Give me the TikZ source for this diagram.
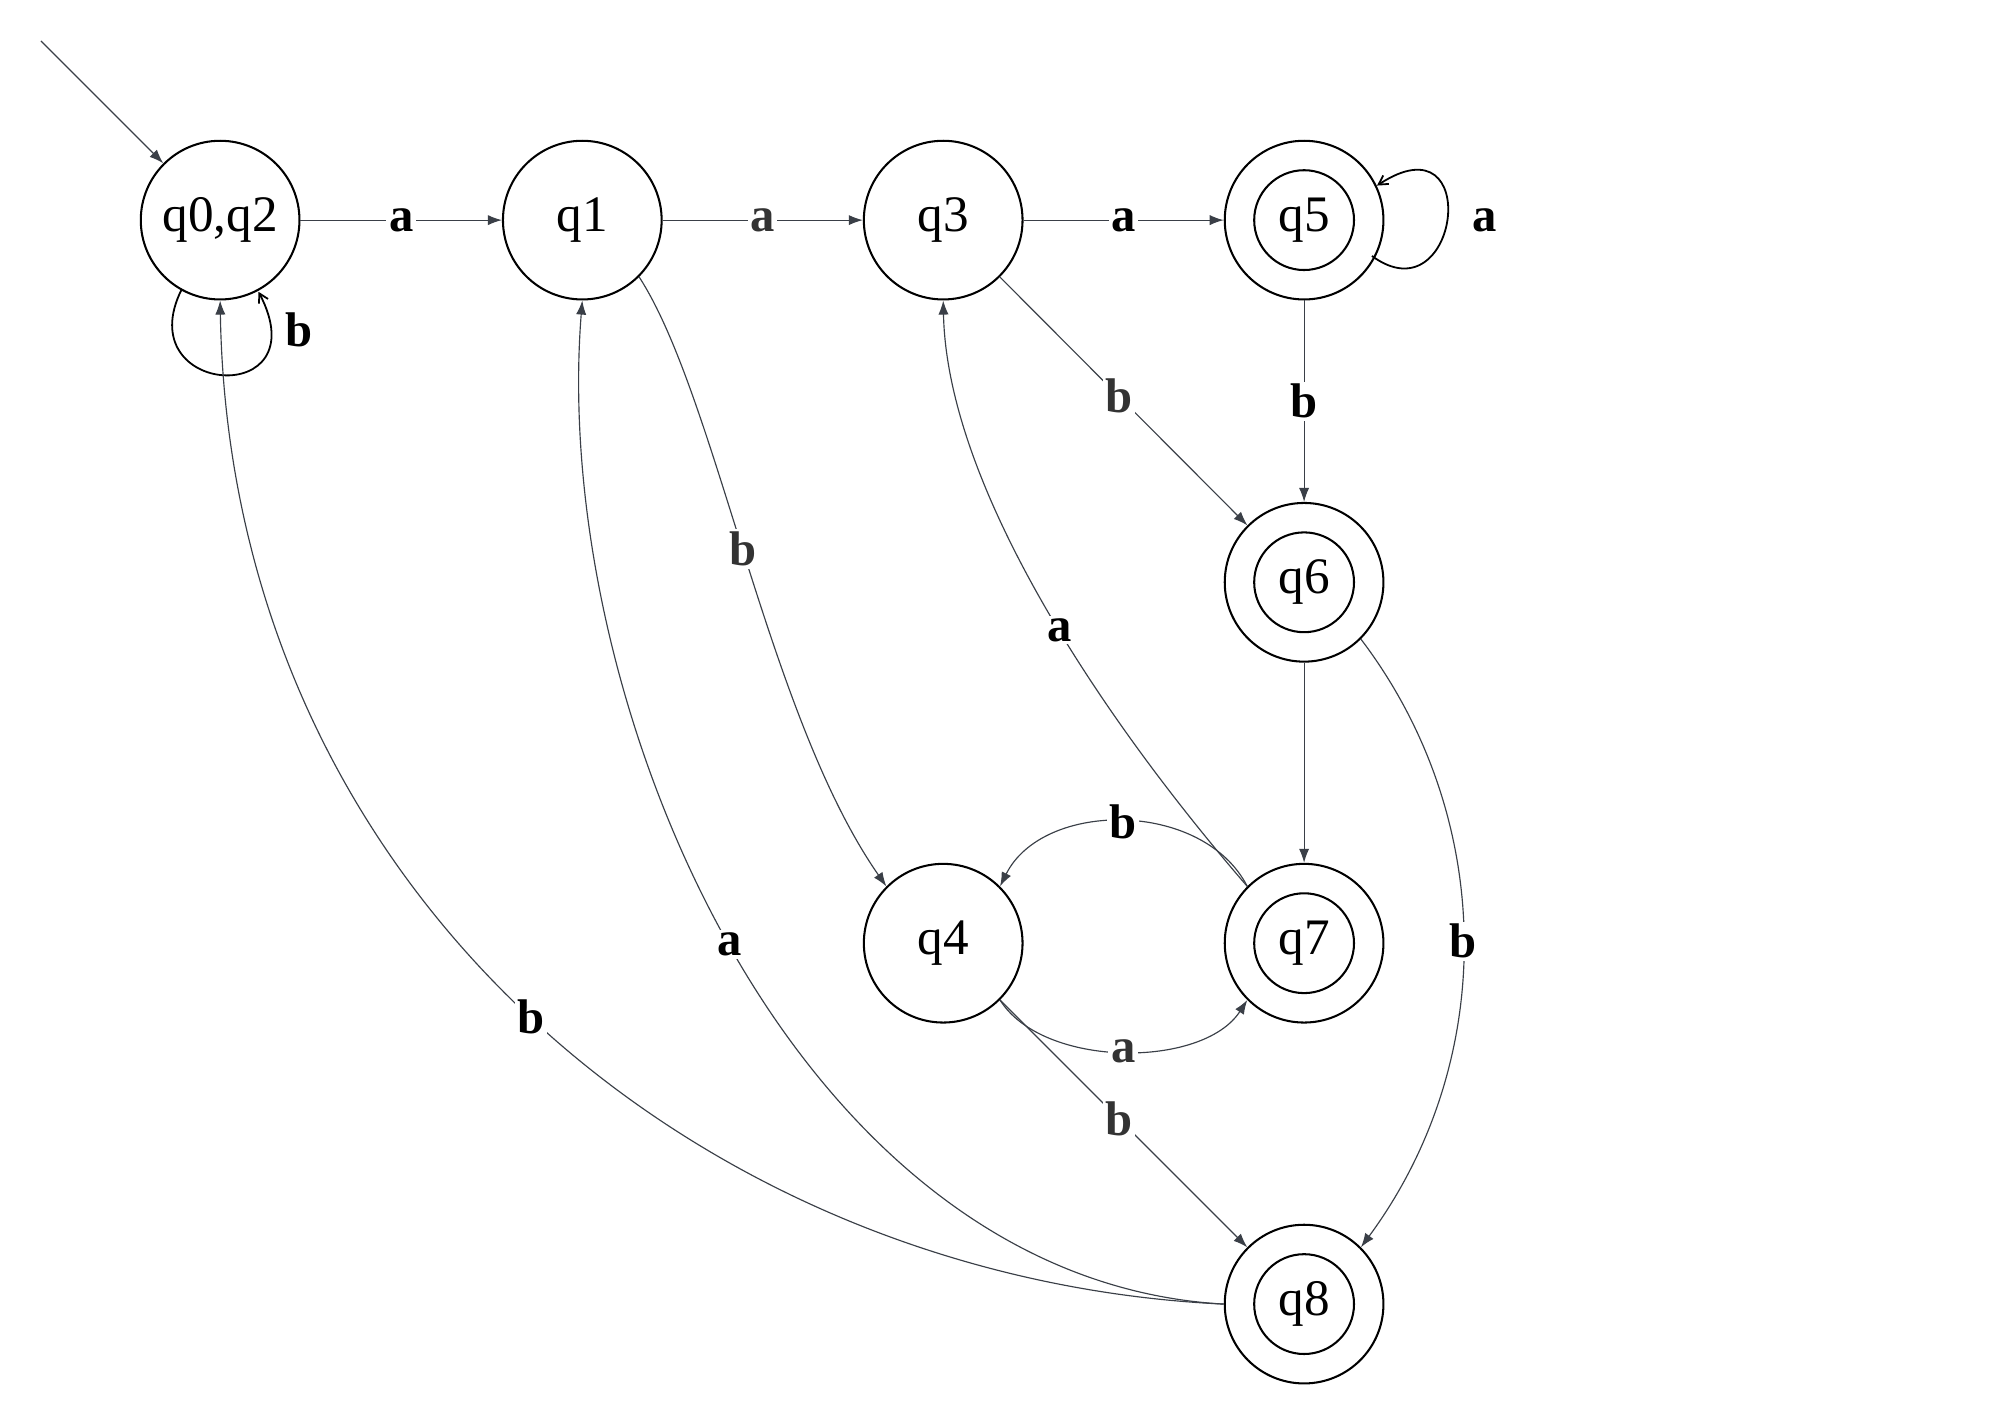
\documentclass[tikz,border=0pt]{standalone}
\usepackage{fontspec}
\setmainfont{Liberation Serif}
\usetikzlibrary{arrows.meta}
\definecolor{edg}{HTML}{3A3F47}
\definecolor{lbg}{HTML}{333333}
\begin{document}
\begin{tikzpicture}[x=1pt,y=-1pt,
  st/.style={circle,draw,line width=1.6pt,minimum size=124pt,inner sep=0pt,font=\fontsize{40}{46}\selectfont},
  acc/.style={st,double,double distance=20pt,line width=1.6pt},
  ed/.style={draw=edg,line width=0.9pt,-{Latex[length=11pt,width=8pt]}},
  lp/.style={draw=black,line width=1.4pt,-{Straight Barb[length=7pt,width=8pt]}},
  lb/.style={fill=white,inner sep=2pt,font=\bfseries\fontsize{38}{44}\selectfont},
  lbg/.style={lb,text=lbg}]
\path[use as bounding box,fill=white] (0,0) rectangle (1562,1110);
\node[st] (q02) at (172,172) {q0,q2};
\node[st] (q1) at (455,172) {q1};
\node[st] (q3) at (737,172) {q3};
\node[st] (q4) at (737,737) {q4};
\node[st] (q5) at (1019,172) {};
\node[circle,draw,line width=1.6pt,minimum size=78pt,font=\fontsize{40}{46}\selectfont] (q5i) at (q5) {q5};
\node[st] (q6) at (1019,455) {};
\node[circle,draw,line width=1.6pt,minimum size=78pt,font=\fontsize{40}{46}\selectfont] (q6i) at (q6) {q6};
\node[st] (q7) at (1019,737) {};
\node[circle,draw,line width=1.6pt,minimum size=78pt,font=\fontsize{40}{46}\selectfont] (q7i) at (q7) {q7};
\node[st] (q8) at (1019,1019) {};
\node[circle,draw,line width=1.6pt,minimum size=78pt,font=\fontsize{40}{46}\selectfont] (q8i) at (q8) {q8};
\coordinate (s) at (32,32);
\draw[ed] (s) -- (q02);
\draw[ed] (q02) -- node[lb]{a} (q1);
\draw[ed] (q1) -- node[lbg]{a} (q3);
\draw[ed] (q3) -- node[lb]{a} (q5);
\draw[ed] (q3) -- node[lbg,pos=0.48]{b} (q6);
\draw[ed] (q5) -- node[lb]{b} (q6);
\draw[ed] (q6) -- (q7);
\draw[ed] (q4) -- node[lbg,pos=0.48]{b} (q8);
\draw[lp] (142,226) .. controls (100,310) and (250,320) .. (202,228);
\node[lb] (lb1) at (234,258) {b};
\draw[lp] (1072,200) .. controls (1140,250) and (1160,90) .. (1076,145);
\node[lb] (la1) at (1160,172) {a};
\draw[ed] (q1.-45) .. controls (560,310) and (600,560) .. node[lbg,pos=0.48]{b} (q4.135);
\draw[ed] (q7.135) .. controls (860,560) and (740,380) .. node[lb,pos=0.45]{a} (q3.south);
\draw[ed] (q6.-45) .. controls (1170,640) and (1170,830) .. node[lb]{b} (q8.45);
\draw[ed] (q7.135) .. controls (940,625) and (815,625) .. node[lb]{b} (q4.45);
\draw[ed] (q4.-45) .. controls (815,835) and (940,835) .. node[lbg]{a} (q7.-135);
\draw[ed] (q8.west) .. controls (620,1000) and (430,550) .. node[lb,pos=0.5]{a} (q1.south);
\draw[ed] (q8.west) .. controls (550,1000) and (180,700) .. node[lb,pos=0.5]{b} (q02.south);
\end{tikzpicture}
\end{document}
